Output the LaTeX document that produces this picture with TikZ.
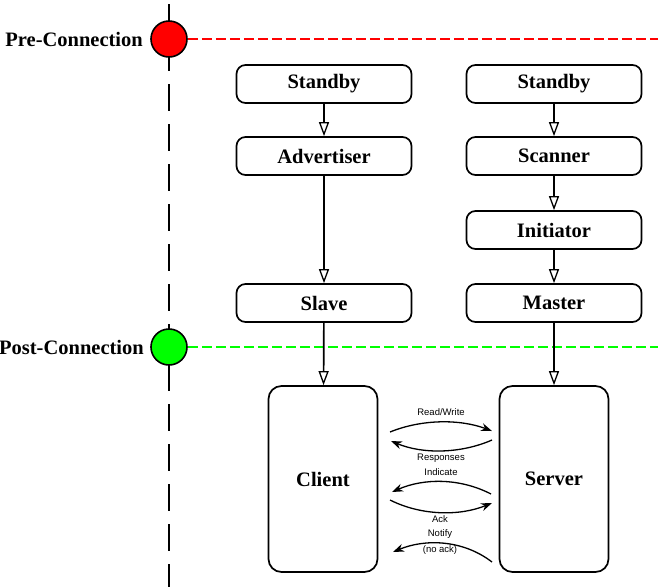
\documentclass[tikz,border=0pt]{standalone}
\usepackage{fontspec}
\setmainfont{Liberation Serif}
\newfontfamily\smallsans{Liberation Sans}
\usetikzlibrary{arrows.meta}
\definecolor{brightgreen}{RGB}{0,255,0}
\definecolor{brightred}{RGB}{255,0,0}
\begin{document}
\begin{tikzpicture}[x=1pt,y=-1pt,
  state/.style={draw,line width=1.7pt,rounded corners=9pt,minimum width=175pt,minimum height=38pt,font=\bfseries\fontsize{20.5}{24}\selectfont,inner sep=0pt},
  role/.style={draw,line width=1.7pt,rounded corners=13pt,minimum width=109pt,minimum height=186pt,font=\bfseries\fontsize{20.5}{24}\selectfont,inner sep=0pt},
  flow/.style={line width=1.7pt,-{Triangle[open,width=10pt,length=14pt,line width=1.3pt]}},
  msg/.style={line width=1.3pt,-{Stealth[width=8pt,length=11pt]}},
  lbl/.style={font=\smallsans\fontsize{9.5}{11}\selectfont,inner sep=0pt},
  phase/.style={circle,draw,line width=1.6pt,minimum size=36pt,inner sep=0pt},
  phaselbl/.style={font=\bfseries\fontsize{20.5}{24}\selectfont,anchor=east,inner sep=0pt}]
\useasboundingbox (0,0) rectangle (658,587);
% timeline
\coordinate (ttop) at (169,0);
\coordinate (tbot) at (169,587);
\draw[line width=2pt,dash pattern=on 27pt off 13pt,dash phase=-4pt] (ttop) -- (tbot);
% phases
\node[phase,fill=brightred] (pre) at (169,39) {};
\node[phase,fill=brightgreen] (post) at (169,347) {};
\node[phaselbl] (prel) at (143,39) {Pre-Connection};
\node[phaselbl] (postl) at (144,347) {Post-Connection};
\coordinate (preend) at (658,39);
\coordinate (postend) at (658,347);
\draw[draw=brightred,line width=1.3pt,dash pattern=on 10pt off 4pt] (pre.east) -- (preend);
\draw[draw=brightgreen,line width=1.3pt,dash pattern=on 10pt off 4pt] (post.east) -- (postend);
% left column
\node[state] (s1) at (324,84) {Standby};
\node[state] (adv) at (324,156) {Advertiser};
\node[state] (slave) at (324,303) {Slave};
\node[role] (client) at (323,479) {Client};
% right column
\node[state] (s2) at (554,84) {Standby};
\node[state] (scan) at (554,156) {Scanner};
\node[state] (init) at (554,230) {Initiator};
\node[state] (master) at (554,303) {Master};
\node[role] (server) at (554,479) {Server};
% flows
\draw[flow] (s1) -- (adv);
\draw[flow] (adv) -- (slave);
\draw[flow] (slave) -- (client);
\draw[flow] (s2) -- (scan);
\draw[flow] (scan) -- (init);
\draw[flow] (init) -- (master);
\draw[flow] (master) -- (server);
% messages
\coordinate (rw1) at (390,432);
\coordinate (rw2) at (492,431);
\draw[msg] (rw1) .. controls (422,419) and (460,419) .. (rw2);
\node[lbl] (rwl) at (441,412) {Read/Write};
\coordinate (rs1) at (492,440);
\coordinate (rs2) at (391,441);
\draw[msg] (rs1) .. controls (460,454) and (422,454) .. (rs2);
\node[lbl] (rsl) at (441,458) {Responses};
\coordinate (in1) at (491,494);
\coordinate (in2) at (392,492);
\draw[msg] (in1) .. controls (460,478) and (424,478) .. (in2);
\node[lbl] (inl) at (441,472) {Indicate};
\coordinate (ak1) at (390,500);
\coordinate (ak2) at (492,503);
\draw[msg] (ak1) .. controls (422,516) and (460,516) .. (ak2);
\node[lbl] (akl) at (440,519) {Ack};
\coordinate (nt1) at (492,562);
\coordinate (nt2) at (393,552);
\draw[msg] (nt1) .. controls (462,539) and (424,539) .. (nt2);
\node[lbl] (ntl) at (440,534) {Notify};
\node[lbl] (ntl2) at (440,550) {(no ack)};
\end{tikzpicture}
\end{document}
